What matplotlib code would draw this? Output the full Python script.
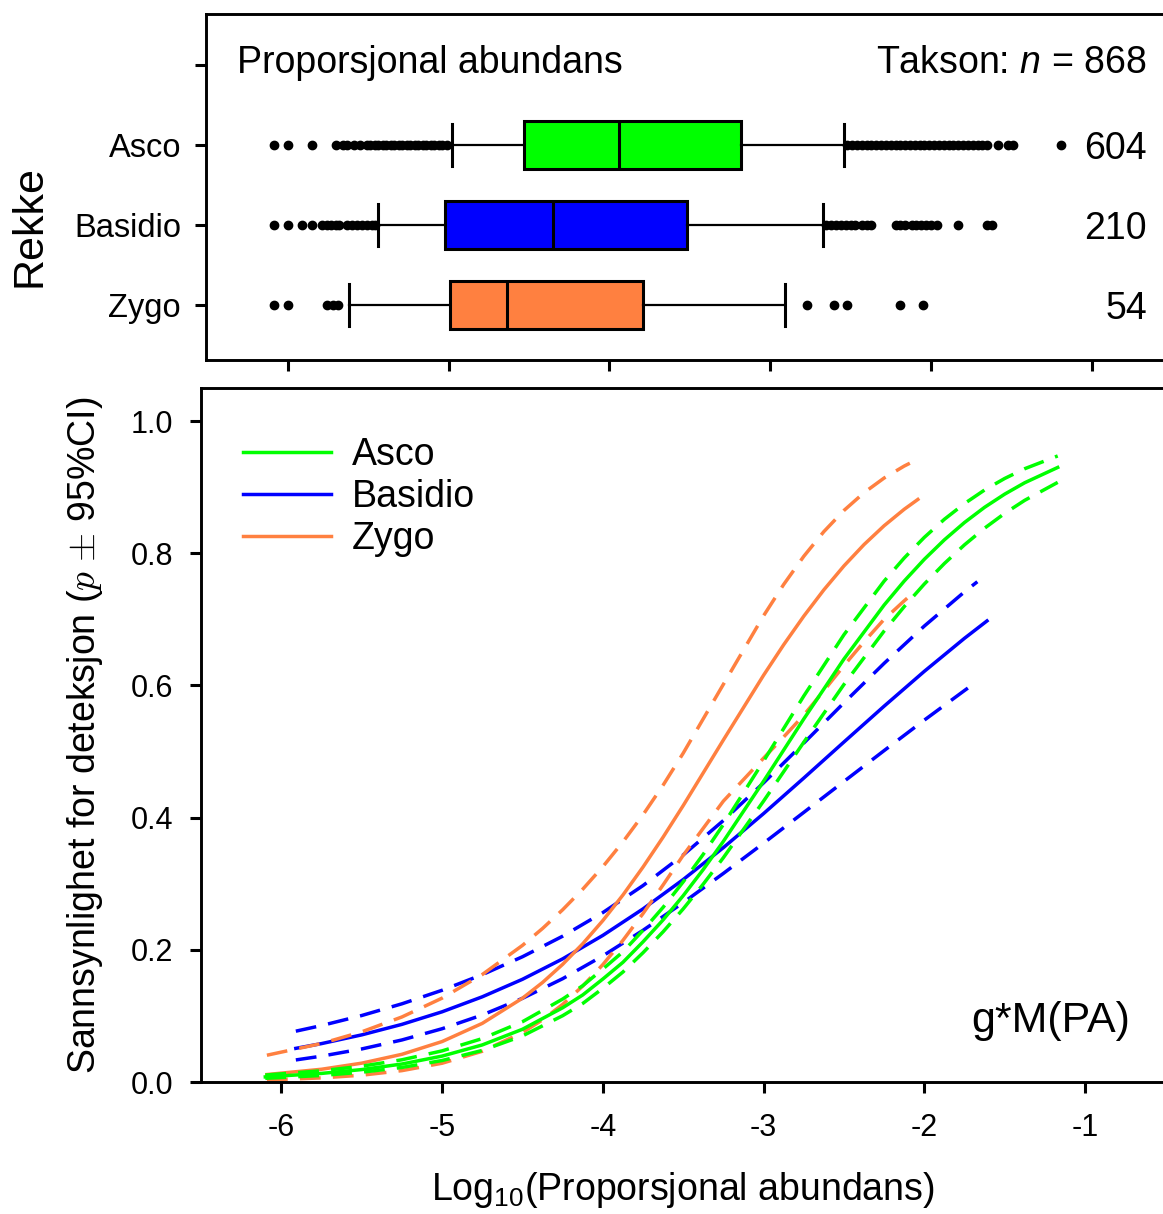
import matplotlib
matplotlib.use('Agg')
import matplotlib.pyplot as plt
from matplotlib.lines import Line2D

plt.rcParams.update({
    'font.family': ['Liberation Sans', 'DejaVu Sans'],
    'mathtext.fontset': 'custom',
    'mathtext.rm': 'Liberation Sans',
    'mathtext.it': 'Liberation Sans:italic',
    'mathtext.bf': 'Liberation Sans:bold',
    'axes.unicode_minus': False,
})

# ---------------- data ----------------
groups = ['Asco', 'Basidio', 'Zygo']
group_n = [604, 210, 54]
total_n = 868
colors = ['#00ff00', '#0000ff', '#ff8040']

# box plot statistics of log10(proportional abundance)
box_q1 = [-4.53, -5.02, -4.99]
box_med = [-3.94, -4.35, -4.64]
box_q3 = [-3.18, -3.52, -3.79]
whisk_lo = [-4.98, -5.44, -5.62]
whisk_hi = [-2.54, -2.67, -2.91]

fliers_asco = [-6.09, -6.00, -5.85, -5.70, -5.66, -5.63, -5.59, -5.55,
               -5.51, -5.49, -5.46, -5.44, -5.41, -5.39, -5.36, -5.34, -5.31,
               -5.29, -5.26, -5.24, -5.21, -5.19, -5.16, -5.14, -5.11, -5.09,
               -5.06, -5.04, -5.01,
               -2.52, -2.49, -2.46, -2.43, -2.40, -2.37, -2.34, -2.31, -2.28,
               -2.25, -2.22, -2.19, -2.16, -2.13, -2.10, -2.07, -2.04, -2.01,
               -1.98, -1.95, -1.92, -1.89, -1.86, -1.83, -1.80, -1.77, -1.74,
               -1.71, -1.68, -1.65, -1.58, -1.52, -1.49, -1.19]
fliers_basidio = [-6.09, -6.00, -5.91, -5.85, -5.79, -5.76, -5.73, -5.70,
                  -5.68, -5.63, -5.60, -5.57, -5.54, -5.51, -5.48, -5.46,
                  -2.65, -2.62, -2.59, -2.56, -2.53, -2.50, -2.47, -2.43,
                  -2.40, -2.37, -2.22, -2.19, -2.16, -2.12, -2.09, -2.06,
                  -2.03, -2.00, -1.96, -1.83, -1.65, -1.62]
fliers_zygo = [-6.09, -6.00, -5.76, -5.72, -5.69,
               -2.77, -2.60, -2.52, -2.19, -2.05]

# fitted detection probability with 95% CI
x_asco = [-6.1, -5.75, -5.5, -5.25, -5.0, -4.75, -4.5, -4.25, -4.125, -4.0,
          -3.875, -3.75, -3.625, -3.5, -3.375, -3.25, -3.0, -2.75, -2.5,
          -2.25, -2.125, -2.0, -1.875, -1.75, -1.625, -1.5, -1.375, -1.17]
asco_fit = [0.0077, 0.0130, 0.0188, 0.0272, 0.0392, 0.0561, 0.0798, 0.1123,
            0.1317, 0.1558, 0.1811, 0.2121, 0.2453, 0.2819, 0.3216, 0.3641,
            0.4551, 0.5492, 0.6399, 0.7216, 0.7579, 0.7908, 0.8203, 0.8465,
            0.8695, 0.8894, 0.9067, 0.9298]
asco_hi = [0.0105, 0.0170, 0.0239, 0.0336, 0.0471, 0.0657, 0.0912, 0.1255,
           0.1457, 0.1709, 0.1969, 0.2295, 0.2643, 0.3028, 0.3446, 0.3896,
           0.4856, 0.5839, 0.6767, 0.7578, 0.7928, 0.8240, 0.8514, 0.8751,
           0.8957, 0.9131, 0.9279, 0.9472]
asco_lo = [0.0056, 0.0099, 0.0148, 0.0220, 0.0325, 0.0478, 0.0697, 0.1003,
           0.1188, 0.1417, 0.1664, 0.1956, 0.2273, 0.2619, 0.2995, 0.3394,
           0.4250, 0.5140, 0.6014, 0.6823, 0.7192, 0.7534, 0.7845, 0.8127,
           0.8379, 0.8603, 0.8801, 0.9072]

x_basidio = [-5.91, -5.75, -5.5, -5.25, -5.0, -4.75, -4.5, -4.25, -4.0, -3.75,
             -3.5, -3.25, -3.0, -2.75, -2.5, -2.25, -2.0, -1.75, -1.61]
basidio_fit = [0.0509, 0.0581, 0.0713, 0.0872, 0.1062, 0.1289, 0.1554, 0.1863,
               0.2218, 0.2619, 0.3063, 0.3546, 0.4061, 0.4598, 0.5144, 0.5686,
               0.6213, 0.6713, 0.6976]
x_basidio_ci = [-5.91, -5.75, -5.5, -5.25, -5.0, -4.75, -4.5, -4.25, -4.0,
                -3.75, -3.5, -3.25, -3.0, -2.75, -2.5, -2.25, -2.0, -1.75, -1.67]
basidio_hi = [0.0769, 0.0854, 0.1006, 0.1183, 0.1388, 0.1624, 0.1895, 0.2206,
              0.2563, 0.2972, 0.3435, 0.3956, 0.4526, 0.5127, 0.5737, 0.6334,
              0.6898, 0.7416, 0.7569]
basidio_lo = [0.0334, 0.0391, 0.0500, 0.0636, 0.0806, 0.1014, 0.1266, 0.1563,
              0.1908, 0.2295, 0.2714, 0.3156, 0.3613, 0.4079, 0.4547, 0.5014,
              0.5475, 0.5923, 0.6064]

x_zygo = [-6.09, -5.75, -5.5, -5.25, -5.0, -4.75, -4.5, -4.375, -4.25, -4.125,
          -4.0, -3.875, -3.75, -3.625, -3.5, -3.25, -3.0, -2.875, -2.75,
          -2.625, -2.5, -2.375, -2.25, -2.125, -2.04]
zygo_fit = [0.0113, 0.0193, 0.0285, 0.0419, 0.0612, 0.0887, 0.1268, 0.1506,
            0.1780, 0.2092, 0.2442, 0.2829, 0.3252, 0.3705, 0.4182, 0.5175,
            0.6154, 0.6615, 0.7047, 0.7446, 0.7808, 0.8131, 0.8416, 0.8665,
            0.8814]
x_zygo_hi = [-6.09, -5.75, -5.5, -5.25, -5.0, -4.75, -4.5, -4.375, -4.25,
             -4.125, -4.0, -3.875, -3.75, -3.625, -3.5, -3.25, -3.0, -2.875,
             -2.75, -2.625, -2.5, -2.375, -2.25, -2.125, -2.09]
zygo_hi = [0.0405, 0.0583, 0.0759, 0.0984, 0.1269, 0.1626, 0.2067, 0.2323,
           0.2606, 0.2917, 0.3258, 0.3633, 0.4043, 0.4491, 0.4975, 0.6017,
           0.7054, 0.7527, 0.7953, 0.8327, 0.8647, 0.8916, 0.9138, 0.9319,
           0.9362]
x_zygo_lo = [-6.09, -5.75, -5.5, -5.25, -5.0, -4.75, -4.5, -4.375, -4.25,
             -4.125, -4.0, -3.875, -3.75, -3.625, -3.5, -3.25, -3.0, -2.875,
             -2.75, -2.625, -2.5, -2.375, -2.25, -2.125, -2.05]
zygo_lo = [0.0031, 0.0062, 0.0103, 0.0172, 0.0284, 0.0465, 0.0748, 0.0941,
           0.1174, 0.1452, 0.1776, 0.2143, 0.2549, 0.2982, 0.3430, 0.4250,
           0.4900, 0.5220, 0.5550, 0.5920, 0.6300, 0.6660, 0.7000, 0.7280,
           0.7440]

x_ticks = [-6, -5, -4, -3, -2, -1]
y_ticks = [0.0, 0.2, 0.4, 0.6, 0.8, 1.0]

# ---------------- figure ----------------
W, H = 1163, 1214
fig = plt.figure(figsize=(W / 100, H / 100), dpi=100)


def rect(l, t, r, b):
    return [l / W, 1 - b / H, (r - l) / W, (b - t) / H]


ax_top = fig.add_axes(rect(206, 14, 1170.4, 360))
ax = fig.add_axes(rect(201, 388, 1165.4, 1082))

spine_w = 2.1
for a in (ax_top, ax):
    for s in a.spines.values():
        s.set_linewidth(spine_w)

# ---- top panel: box plots ----
fliers = [fliers_asco, fliers_basidio, fliers_zygo]
stats = []
for i in range(3):
    stats.append(dict(med=box_med[i], q1=box_q1[i], q3=box_q3[i],
                      whislo=whisk_lo[i], whishi=whisk_hi[i],
                      fliers=fliers[i]))
positions = [3, 2, 1]
kw = dict(positions=positions, widths=0.61, patch_artist=True,
          capwidths=0.52, manage_ticks=False,
          boxprops=dict(linewidth=2.2, edgecolor='black'),
          medianprops=dict(color='black', linewidth=2.2),
          whiskerprops=dict(color='black', linewidth=1.6),
          capprops=dict(color='black', linewidth=2.2),
          flierprops=dict(marker='o', markerfacecolor='black',
                          markeredgecolor='black', markersize=6,
                          linestyle='none'))
try:
    bp = ax_top.bxp(stats, orientation='horizontal', **kw)
except TypeError:
    bp = ax_top.bxp(stats, vert=False, **kw)
for patch, c in zip(bp['boxes'], colors):
    patch.set_facecolor(c)

ax_top.set_xlim(-6.51, -0.51)
ax_top.set_ylim(0.3125, 4.6375)
ax_top.set_xticks(x_ticks)
ax_top.set_xticklabels([])
ax_top.set_yticks([1, 2, 3, 4])
ax_top.set_yticklabels(['Zygo', 'Basidio', 'Asco', ''], fontsize=23.5)
ax_top.tick_params(axis='both', direction='out', length=8, width=2.2)
ax_top.tick_params(axis='y', pad=10)

ax_top.text(-6.32, 3.9, 'Proporsjonal abundans', fontsize=27,
            ha='left', va='baseline')
ax_top.text(-0.66, 3.9, r'Takson: $n$ = ' + str(total_n), fontsize=27,
            ha='right', va='baseline')
for pos, n in zip(positions, group_n):
    ax_top.text(-0.655, pos - 0.169, str(n), fontsize=27,
                ha='right', va='baseline')

# ---- bottom panel: curves ----
lw = 2.5
dash = (6, 3.5)
ax.plot(x_basidio, basidio_fit, color=colors[1], lw=lw)
ax.plot(x_basidio_ci, basidio_hi, color=colors[1], lw=lw, dashes=dash)
ax.plot(x_basidio_ci, basidio_lo, color=colors[1], lw=lw, dashes=dash)
ax.plot(x_zygo, zygo_fit, color=colors[2], lw=lw)
ax.plot(x_zygo_hi, zygo_hi, color=colors[2], lw=lw, dashes=dash)
ax.plot(x_zygo_lo, zygo_lo, color=colors[2], lw=lw, dashes=dash)
ax.plot(x_asco, asco_fit, color=colors[0], lw=lw)
ax.plot(x_asco, asco_hi, color=colors[0], lw=lw, dashes=dash)
ax.plot(x_asco, asco_lo, color=colors[0], lw=lw, dashes=dash)

ax.set_xlim(-6.5, -0.5)
ax.set_ylim(0, 1.05)
ax.set_xticks(x_ticks)
ax.set_xticklabels([str(t) for t in x_ticks], fontsize=22)
ax.set_yticks(y_ticks)
ax.set_yticklabels(['%.1f' % t for t in y_ticks], fontsize=22)
ax.tick_params(axis='both', direction='out', length=8, width=2.2)
ax.tick_params(axis='x', pad=14)
ax.tick_params(axis='y', pad=12)

handles = [Line2D([], [], color=c, lw=lw) for c in colors]
ax.legend(handles, groups, loc='upper left', bbox_to_anchor=(0.0436, 0.929),
          frameon=False, fontsize=27, handlelength=2.35, handletextpad=0.55,
          labelspacing=0.16, borderpad=0, borderaxespad=0)

ax.text(-0.72, 0.0756, 'g*M(PA)', fontsize=31, ha='right', va='baseline')

fig.text(683 / W, 1 - 1190 / H, r'Log$_{10}$(Proporsjonal abundans)',
         fontsize=27, ha='center', va='center')
fig.text(85 / W, 1 - 735 / H,
         r'Sannsynlighet for deteksjon ($p$ $\pm$ 95%CI)',
         fontsize=27, rotation=90, ha='center', va='center',
         math_fontfamily='cm')
fig.text(30 / W, 1 - 226 / H, 'Rekke', fontsize=31, rotation=90,
         ha='center', va='center')

fig.savefig('out.png', dpi=100)
